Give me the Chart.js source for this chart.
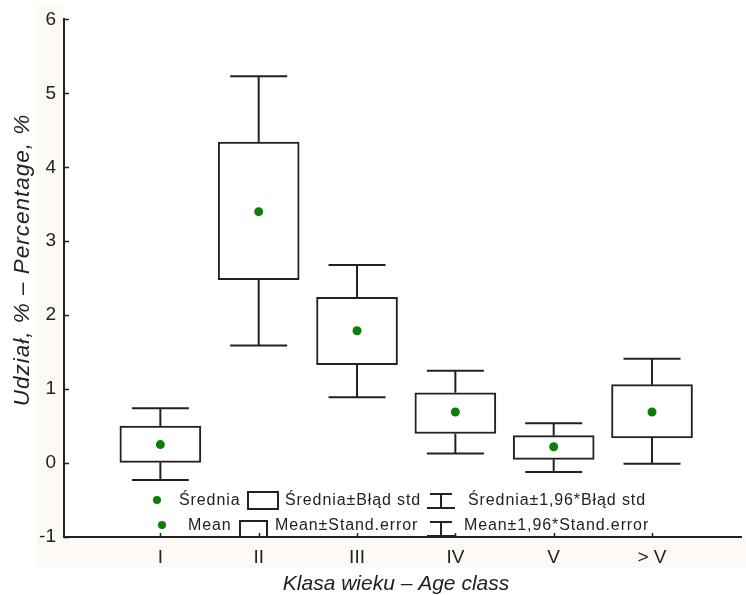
<!DOCTYPE html>
<html lang="pl">
<head>
<meta charset="UTF-8">
<title>Udział wg klasy wieku</title>
<script src="https://cdn.jsdelivr.net/npm/chart.js@4"></script>
<style>
  html, body { margin: 0; padding: 0; background: #fff; }
  #wrap { width: 746px; height: 595px; position: relative; }
</style>
</head>
<body>
<div id="wrap"><canvas id="boxChart"></canvas></div>
<script>
// data
const classes = ['I', 'II', 'III', 'IV', 'V', '> V'];
const means   = [0.25, 3.40, 1.79, 0.69, 0.22, 0.69];
const seLow   = [0.01, 2.48, 1.33, 0.40, 0.05, 0.34];
const seHigh  = [0.50, 4.34, 2.24, 0.95, 0.37, 1.06];
const ciLow   = [-0.23, 1.59, 0.89, 0.13, -0.12, -0.01];
const ciHigh  = [0.74, 5.23, 2.68, 1.25, 0.54, 1.41];
const yTicks  = [-1, 0, 1, 2, 3, 4, 5, 6];
const legendPl = ['Średnia', 'Średnia±Błąd std', 'Średnia±1,96*Błąd std'];
const legendEn = ['Mean', 'Mean±Stand.error', 'Mean±1,96*Stand.error'];
const yTitle = 'Udział, % – Percentage, %';
const xTitle = 'Klasa wieku – Age class';

const INK = '#222';
const GREEN = '#0a7f0a';
const FONT = "'Liberation Sans', Arial, sans-serif";

Chart.defaults.font.family = FONT;
Chart.defaults.color = INK;

// whiskers, inner tick marks, titles and the in-plot legend
const extras = {
  id: 'extras',
  beforeDraw(chart) {
    const ctx = chart.ctx;
    ctx.save();
    ctx.fillStyle = '#fff';
    ctx.fillRect(0, 0, chart.width, chart.height);
    ctx.fillStyle = '#fdf9f5';
    ctx.fillRect(36, 5, 28, 532);
    ctx.fillRect(36, 538, chart.width - 36, 30);
    ctx.restore();
  },
  beforeDatasetsDraw(chart) {
    const ctx = chart.ctx, x = chart.scales.x, y = chart.scales.y;
    ctx.save();
    ctx.strokeStyle = INK;
    ctx.lineWidth = 2;
    classes.forEach((c, i) => {
      const px = x.getPixelForValue(i + 1);
      [[seHigh[i], ciHigh[i]], [seLow[i], ciLow[i]]].forEach(([from, to]) => {
        const a = y.getPixelForValue(from), b = y.getPixelForValue(to);
        ctx.beginPath();
        ctx.moveTo(px, a); ctx.lineTo(px, b);
        ctx.moveTo(px - 28.5, b); ctx.lineTo(px + 28.5, b);
        ctx.stroke();
      });
    });
    ctx.restore();
  },
  afterDraw(chart) {
    const ctx = chart.ctx, x = chart.scales.x, y = chart.scales.y;
    const area = chart.chartArea;
    ctx.save();
    ctx.strokeStyle = INK;
    ctx.lineWidth = 1.5;
    ctx.beginPath();
    yTicks.forEach(v => {
      const py = Math.round(y.getPixelForValue(v)) + 0.5;
      ctx.moveTo(area.left, py); ctx.lineTo(area.left + 5, py);
    });
    classes.forEach((c, i) => {
      const px = Math.round(x.getPixelForValue(i + 1)) + 0.5;
      ctx.moveTo(px, area.bottom); ctx.lineTo(px, area.bottom - 4);
    });
    ctx.stroke();

    // axis titles
    ctx.fillStyle = INK;
    ctx.font = 'italic 21px ' + FONT;
    ctx.textAlign = 'center';
    ctx.textBaseline = 'alphabetic';
    ctx.letterSpacing = '0px';
    ctx.fillText(xTitle, 396, 590);
    ctx.save();
    ctx.translate(29, 260);
    ctx.rotate(-Math.PI / 2);
    ctx.font = 'italic 22.5px ' + FONT;
    ctx.letterSpacing = '1px';
    ctx.fillText(yTitle, 0, 0);
    ctx.restore();

    // legend, two rows
    const rows = [
      { labels: legendPl, cy: 500, dot: 157, tx: [179, 285, 468], box: [248, 492, 30, 17], wk: [441, 494, 508] },
      { labels: legendEn, cy: 525, dot: 162, tx: [188, 275, 464], box: [240, 521, 27, 16], wk: [441, 522, 536] }
    ];
    ctx.font = '16px ' + FONT;
    ctx.textAlign = 'left';
    ctx.textBaseline = 'middle';
    ctx.letterSpacing = '0.9px';
    rows.forEach(r => {
      ctx.fillStyle = GREEN;
      ctx.beginPath();
      ctx.arc(r.dot, r.cy, 4, 0, Math.PI * 2);
      ctx.fill();
      ctx.fillStyle = INK;
      r.labels.forEach((t, k) => ctx.fillText(t, r.tx[k], r.cy + 1));
      ctx.lineWidth = 2;
      ctx.strokeRect(r.box[0], r.box[1], r.box[2], r.box[3]);
      const [wx, wt, wb] = r.wk;
      ctx.beginPath();
      ctx.moveTo(wx - 11, wt); ctx.lineTo(wx + 11, wt);
      ctx.moveTo(wx, wt); ctx.lineTo(wx, wb);
      ctx.moveTo(wx - 14, wb); ctx.lineTo(wx + 14, wb);
      ctx.stroke();
    });
    ctx.restore();
  }
};

new Chart(document.getElementById('boxChart'), {
  type: 'bar',
  data: {
    datasets: [
      {
        label: 'Mean±Stand.error',
        data: classes.map((c, i) => ({ x: i + 1, y: [seLow[i], seHigh[i]] })),
        backgroundColor: '#fff',
        borderColor: INK,
        borderWidth: 2,
        borderSkipped: false,
        barThickness: 81,
        order: 2
      },
      {
        type: 'line',
        label: 'Mean',
        data: classes.map((c, i) => ({ x: i + 1, y: means[i] })),
        showLine: false,
        pointRadius: 4.5,
        pointBackgroundColor: GREEN,
        pointBorderWidth: 0,
        order: 1
      }
    ]
  },
  options: {
    responsive: true,
    maintainAspectRatio: false,
    animation: false,
    layout: { padding: { top: 18, left: 0, right: 0, bottom: 0 } },
    plugins: { legend: { display: false }, tooltip: { enabled: false } },
    scales: {
      x: {
        type: 'linear',
        offset: false,
        min: 0.02,
        max: 6.91,
        afterBuildTicks: s => { s.ticks = classes.map((c, i) => ({ value: i + 1 })); },
        afterFit: s => { s.height = 58; },
        grid: { display: false, drawTicks: false },
        border: { display: true, color: INK, width: 2 },
        ticks: {
          font: { size: 19 },
          color: INK,
          padding: 9,
          maxRotation: 0,
          autoSkip: false,
          callback: v => classes[v - 1]
        }
      },
      y: {
        min: -1,
        max: 6,
        afterBuildTicks: s => { s.ticks = yTicks.map(v => ({ value: v })); },
        afterFit: s => { s.width = 64; },
        grid: { display: false, drawTicks: false },
        border: { display: true, color: INK, width: 2 },
        ticks: { font: { size: 19 }, color: INK, padding: 8 }
      }
    }
  },
  plugins: [extras]
});
</script>
</body>
</html>
